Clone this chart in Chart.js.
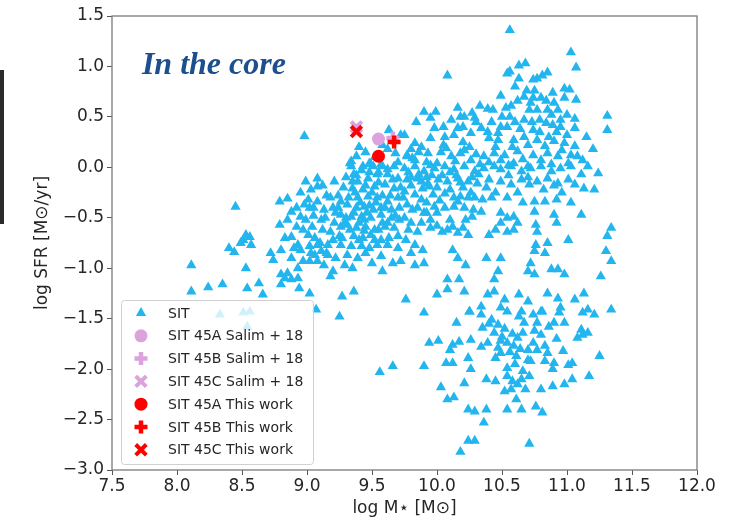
<html>
<head>
<meta charset="UTF-8">
<title>SFR vs stellar mass - core</title>
<script src="https://cdn.jsdelivr.net/npm/chart.js"></script>
<style>
  body { margin: 0; background: #fff; }
  #wrap { width: 730px; height: 522px; position: relative; }
</style>
</head>
<body>
<div id="wrap"><canvas id="chart"></canvas></div>
<script>
// axis ticks
var xTicks = [7.5, 8.0, 8.5, 9.0, 9.5, 10.0, 10.5, 11.0, 11.5, 12.0];
var yTicks = [-3.0, -2.5, -2.0, -1.5, -1.0, -0.5, 0.0, 0.5, 1.0, 1.5];

var legendLabels = ["SIT", "SIT 45A Salim + 18", "SIT 45B Salim + 18", "SIT 45C Salim + 18",
                    "SIT 45A This work", "SIT 45B This work", "SIT 45C This work"];

// SIT galaxies [log M*, log SFR]
var sitPoints = [
 [10.56,1.36],[11.03,1.14],[11.07,0.99],[10.08,0.91],[10.63,1.01],[10.68,1.03],[10.54,0.93],[10.56,0.95],
 [10.63,0.88],[10.74,0.87],[10.77,0.88],[10.81,0.91],[10.85,0.94],[10.60,0.80],[10.49,0.71],[10.69,0.76],
 [10.67,0.70],[10.75,0.76],[10.74,0.69],[10.80,0.69],[10.89,0.74],[10.90,0.64],[10.98,0.78],[11.02,0.77],
 [10.98,0.69],[11.07,0.67],[11.31,0.51],[11.31,0.37],[11.15,0.30],[11.20,0.18],[11.06,0.48],[11.06,0.39],
 [10.95,0.47],[10.95,0.40],[10.88,0.52],[10.89,0.42],[10.79,0.47],[10.79,0.35],[10.74,0.37],[10.71,0.57],
 [10.77,0.57],[10.85,0.57],[10.67,0.47],[10.57,0.61],[10.53,0.59],[10.56,0.50],[10.54,0.40],[10.49,0.40],
 [10.47,0.34],[10.43,0.57],[10.39,0.58],[10.33,0.61],[10.27,0.54],[10.29,0.49],[10.21,0.50],[10.16,0.59],
 [10.18,0.50],[9.99,0.55],[9.90,0.55],[9.95,0.49],[9.84,0.45],[9.98,0.39],[10.11,0.47],[10.34,0.39],
 [10.39,0.35],[10.40,0.29],[10.47,0.27],[10.26,0.34],[10.16,0.39],[10.13,0.32],[10.06,0.30],[9.95,0.29],
 [9.75,0.32],[9.83,0.24],[10.59,0.27],[10.67,0.30],[10.70,0.22],[10.77,0.27],[10.83,0.21],[10.90,0.26],
 [10.98,0.24],[11.06,0.21],[11.08,0.11],[11.03,0.12],
 [9.77,0.11],[9.83,0.07],[9.93,0.14],[10.00,0.04],[10.11,0.11],[10.18,0.14],[10.26,0.07],[10.36,0.11],
 [10.44,0.14],[10.49,0.07],[10.59,0.04],[10.70,0.01],[10.80,0.07],[10.85,0.14],[10.93,0.11],[11.01,0.04],
 [11.16,0.01],[9.80,0.18],[9.88,0.20],[9.92,0.05],[10.03,0.15],[10.07,0.19],[10.14,0.06],[10.21,0.17],
 [10.30,0.13],[10.33,0.03],[10.40,0.05],[10.45,0.20],[10.52,0.12],[10.55,0.02],[10.62,0.16],[10.66,0.08],
 [10.74,0.12],[10.88,0.03],[10.96,0.17],[11.12,0.07],
 [8.98,0.31],[9.63,0.37],[9.34,0.06],[9.49,0.03],[9.57,0.03],[9.68,0.14],[9.58,0.22],[9.72,0.32],
 [9.81,0.09],[9.77,0.12],[9.38,0.11],[9.35,-0.14],[9.38,-0.08],[9.48,0.04],[9.33,0.04],
 [8.45,-0.39],[8.11,-0.97],[8.11,-1.23],[8.24,-1.19],[8.35,-1.16],[8.53,-1.00],[8.54,-1.20],[8.63,-1.15],
 [8.66,-1.26],[8.40,-0.80],[8.44,-0.84],[8.51,-0.72],[8.53,-0.67],[8.56,-0.69],[8.57,-0.77],[8.49,-0.75],
 [8.72,-0.85],[8.74,-0.92],[8.79,-0.34],[8.85,-0.31],[8.79,-0.57],[8.88,-0.44],[8.85,-0.52],[8.80,-0.82],
 [8.83,-0.70],[8.88,-0.69],[8.90,-0.80],[8.88,-0.90],[8.93,-0.77],[8.80,-1.06],[8.83,-1.10],[8.85,-1.05],
 [8.80,-1.16],[8.88,-1.11],[8.93,-1.10],[8.94,-1.20],[9.02,-1.25],[8.93,-1.00],[8.97,-0.93],[8.95,-0.82],
 [9.02,-0.93],[9.03,-0.85],[8.99,-0.14],[9.08,-0.11],[9.08,-0.19],[9.21,-0.14],
 [8.98,-0.37],[9.01,-0.32],[9.08,-0.34],[9.02,-0.40],[8.95,-0.49],[8.92,-0.59],[8.97,-0.62],[9.01,-0.67],
 [9.04,-0.59],[9.06,-0.70],[9.08,-0.77],[9.11,-0.83],[9.06,-0.87],[9.08,-0.93],[9.13,-0.97],[9.20,-1.03],
 [9.18,-1.08],[9.16,-0.87],[9.16,-0.77],[9.22,-0.90],[9.29,-0.97],[9.35,-1.00],[9.27,-1.28],[9.36,-1.23],
 [9.25,-0.68],[9.26,-0.59],[9.30,-0.50],[9.26,-0.34],[9.20,-0.40],[9.13,-0.42],[9.11,-0.52],[9.21,-0.55],
 [9.18,-0.64],
 [9.34,0.01],[9.43,0.01],[9.51,0.01],[9.58,0.01],[9.67,0.01],[9.36,-0.07],[9.39,-0.14],[9.47,-0.11],
 [9.54,-0.07],[9.62,-0.07],[9.70,-0.11],[9.35,-0.21],[9.43,-0.22],[9.52,-0.19],[9.60,-0.17],[9.67,-0.21],
 [9.39,-0.30],[9.47,-0.29],[9.54,-0.30],[9.62,-0.34],[9.70,-0.30],[9.31,-0.37],[9.38,-0.40],[9.44,-0.39],
 [9.51,-0.42],[9.57,-0.40],[9.65,-0.42],[9.71,-0.40],[9.26,-0.47],[9.34,-0.49],[9.42,-0.49],[9.49,-0.50],
 [9.57,-0.47],[9.65,-0.50],[9.71,-0.52],[9.31,-0.57],[9.38,-0.60],[9.45,-0.59],[9.52,-0.62],[9.60,-0.59],
 [9.67,-0.60],[9.36,-0.68],[9.43,-0.70],[9.49,-0.67],[9.57,-0.72],[9.63,-0.70],[9.70,-0.68],[9.26,-0.77],
 [9.34,-0.78],[9.42,-0.78],[9.48,-0.80],[9.54,-0.77],[9.62,-0.77],[9.70,-0.80],[9.45,-0.85],[9.57,-0.88],
 [9.66,-0.95],[9.58,-1.03],[9.72,-0.93],[9.31,-0.87],
 [9.28,-0.20],[9.24,-0.28],[9.30,-0.10],[9.22,-0.45],[9.40,-0.55],[9.46,-0.45],[9.50,-0.25],[9.55,-0.15],
 [9.60,-0.40],[9.64,-0.28],[9.52,-0.72],[9.44,-0.63],[9.41,-0.35],[9.33,-0.62],[9.68,-0.48],[9.58,-0.55],
 [9.48,-0.05],[9.62,-0.02],[9.66,-0.12],[9.37,-0.25],[9.53,-0.35],[9.27,-0.70],[9.39,-0.90],[9.50,-0.95],
 [9.12,-0.62],[9.05,-0.48],[9.15,-0.28],[9.10,-0.75],
 [9.75,-0.01],[9.83,0.01],[9.90,-0.04],[9.98,-0.01],[10.06,0.01],[10.13,-0.02],[10.21,0.01],[10.29,-0.04],
 [10.36,-0.01],[10.44,0.01],[10.49,-0.02],[10.57,0.01],[10.65,-0.04],[10.72,-0.01],[10.80,0.01],[10.88,-0.04],
 [10.95,-0.01],[11.03,0.01],[11.11,-0.07],[11.24,-0.06],
 [9.77,-0.12],[9.85,-0.11],[9.93,-0.16],[10.01,-0.12],[10.08,-0.14],[10.16,-0.11],[10.24,-0.14],[10.31,-0.16],
 [10.40,-0.12],[10.49,-0.14],[10.57,-0.17],[10.65,-0.12],[10.71,-0.17],[10.77,-0.14],[10.85,-0.11],[10.93,-0.16],
 [11.01,-0.12],[11.06,-0.17],[11.13,-0.21],[11.21,-0.22],
 [9.75,-0.24],[9.83,-0.27],[9.89,-0.21],[9.97,-0.27],[10.06,-0.26],[10.13,-0.30],[10.18,-0.29],[10.29,-0.30],
 [10.35,-0.32],[10.42,-0.30],[10.54,-0.30],[10.66,-0.35],[10.75,-0.34],[10.83,-0.34],[10.92,-0.32],[11.03,-0.35],
 [9.77,-0.37],[9.85,-0.40],[9.92,-0.45],[9.98,-0.39],[10.06,-0.40],[10.13,-0.39],[10.21,-0.40],[10.27,-0.49],
 [10.34,-0.44],[10.49,-0.45],[10.54,-0.50],[10.59,-0.49],[10.62,-0.55],[10.75,-0.44],[10.90,-0.47],[10.92,-0.55],
 [11.11,-0.47],
 [9.75,-0.50],[9.80,-0.55],[9.85,-0.64],[9.95,-0.60],[10.04,-0.64],[10.12,-0.59],[10.16,-0.65],[10.24,-0.67],
 [10.40,-0.67],[10.45,-0.62],[10.49,-0.55],[10.54,-0.64],[10.59,-0.62],[10.76,-0.57],[10.77,-0.64],[11.34,-0.60],
 [11.31,-0.68],
 [9.76,-0.72],[9.83,-0.77],[9.89,-0.82],[9.80,-0.85],[10.12,-0.82],[10.16,-0.90],[10.22,-0.97],[10.38,-0.90],
 [10.49,-0.90],[10.76,-0.77],[10.75,-0.83],[10.85,-0.75],[10.83,-0.85],[11.01,-0.72],[11.30,-0.83],[11.34,-0.93],
 [9.83,-0.97],[9.90,-0.95],[10.47,-1.03],[10.44,-1.11],[10.72,-0.95],[10.70,-1.03],[10.75,-1.06],[10.88,-1.01],
 [10.93,-1.01],[10.98,-1.06],[11.26,-1.08],
 [10.08,-1.11],[10.17,-1.11],[10.08,-1.21],[10.21,-1.23],[10.39,-1.26],[10.44,-1.23],[10.52,-1.31],[10.63,-1.26],
 [10.70,-1.33],[10.85,-1.25],[10.93,-1.30],[11.06,-1.31],[11.13,-1.25],[9.76,-1.31],[9.90,-1.44],[10.25,-1.43],
 [10.34,-1.38],[10.49,-1.39],[10.65,-1.43],[10.80,-1.43],[10.95,-1.39],[11.16,-1.41],[11.34,-1.41],[10.00,-1.26],
 [9.78,-0.05],[9.86,-0.07],[9.92,-0.10],[10.00,-0.20],[10.04,-0.08],[10.10,-0.22],[9.88,-0.32],[9.94,-0.19],
 [9.80,-0.18],[10.20,-0.20],[10.15,-0.08],[10.26,-0.25],[10.32,-0.07],[10.02,-0.33],[9.90,-0.45],[10.10,-0.52],
 [9.95,-0.52],[10.38,-0.20],[10.45,-0.25],[10.55,-0.08],[10.62,-0.25],[10.70,-0.10],[10.82,-0.22],[10.90,-0.18],
 [10.96,-0.25],[10.28,-0.42],[10.22,-0.52],
 [10.15,-1.54],[10.25,-1.43],[10.34,-1.46],[10.42,-1.51],[10.47,-1.56],[10.35,-1.59],[10.44,-1.64],[10.54,-1.43],
 [10.63,-1.48],[10.67,-1.54],[10.74,-1.46],[10.77,-1.54],[10.81,-1.43],[10.90,-1.54],[10.94,-1.44],[10.98,-1.54],
 [11.12,-1.44],[11.21,-1.46],[11.11,-1.61],[11.16,-1.64],[11.08,-1.69],
 [9.94,-1.74],[10.01,-1.72],[10.10,-1.81],[10.12,-1.76],[10.17,-1.73],[10.26,-1.71],[10.34,-1.78],[10.39,-1.74],
 [10.47,-1.79],[10.49,-1.72],[10.54,-1.74],[10.59,-1.77],[10.62,-1.69],[10.66,-1.64],[10.70,-1.81],[10.74,-1.74],
 [10.77,-1.81],[10.83,-1.77],[10.85,-1.84],[10.80,-1.66],[10.97,-1.82],[11.25,-1.87],
 [9.90,-1.97],[10.07,-1.94],[10.12,-1.94],[10.24,-1.89],[10.26,-2.00],[10.45,-1.89],[10.49,-1.84],[10.54,-1.99],
 [10.61,-1.87],[10.70,-1.91],[10.72,-1.92],[10.83,-1.92],[10.90,-1.94],[10.89,-2.00],[11.01,-1.96],[11.04,-1.94],
 [11.17,-2.07],
 [10.03,-2.18],[10.21,-2.14],[10.38,-2.10],[10.45,-2.12],[10.54,-2.07],[10.65,-2.10],[10.62,-2.15],[10.68,-2.20],
 [10.71,-2.07],[10.80,-2.20],[10.89,-2.17],[10.98,-2.15],[11.04,-2.10],[10.57,-2.20],[10.61,-2.30],
 [10.08,-2.30],[10.13,-2.28],[10.24,-2.40],[10.29,-2.42],[10.38,-2.40],[10.54,-2.40],[10.65,-2.40],[10.76,-2.37],
 [10.81,-2.43],[10.36,-2.53],[10.24,-2.71],[10.29,-2.71],[10.18,-2.82],[10.71,-2.74],
 [10.40,-1.55],[10.52,-1.60],[10.58,-1.65],[10.50,-1.68],[10.56,-1.83],[10.64,-1.80],[10.60,-1.95],[10.66,-2.02],
 [10.52,-2.22],[10.58,-2.12],[10.75,-1.62],[10.86,-1.58],[10.92,-1.70],[11.12,-1.66],
 [9.25,-1.48],[9.07,-1.41],[9.56,-2.03],[9.66,-1.97],[8.33,-1.46],[8.51,-1.44],[8.56,-1.43],[8.54,-1.58],
 // crowded core, where single triangles overlap
 [9.40,0.20],[9.45,0.15],[9.52,0.10],[9.62,0.18],[9.70,0.05],[9.86,0.15],[9.95,0.02],[10.05,0.22],
 [10.20,0.25],[10.25,0.20],[9.42,-0.03],[9.55,-0.05],[9.72,-0.20],[9.80,-0.10],[9.88,-0.14],[9.96,-0.08],
 [10.10,-0.05],[10.18,-0.15],[10.27,-0.10],[9.45,-0.18],[9.32,-0.30],[9.48,-0.38],[9.58,-0.28],[9.74,-0.30],
 [9.81,-0.42],[9.92,-0.35],[10.00,-0.45],[10.16,-0.34],[10.24,-0.30],[9.36,-0.45],[9.44,-0.52],[9.55,-0.62],
 [9.62,-0.55],[9.78,-0.62],[9.88,-0.55],[10.00,-0.58],[10.08,-0.62],[10.20,-0.60],[9.29,-0.55],[9.40,-0.72],
 [8.95,-0.25],[9.03,-0.22],[9.12,-0.18],[9.18,-0.30],[8.92,-0.40],[9.05,-0.40],[9.14,-0.50],[8.99,-0.52],
 [9.24,-0.40],[9.02,-0.78],[9.20,-0.72],[9.15,-0.85],
 [10.62,0.66],[10.72,0.64],[10.84,0.66],[10.93,0.57],[10.60,0.45],[10.64,0.38],[10.84,0.44],[10.92,0.35],
 [11.00,0.52],[10.50,0.50],[10.42,0.45],[10.30,0.45],[10.20,0.40],[10.05,0.40],[10.58,0.20],[10.73,0.45],
 [11.00,0.32],[10.86,0.30]
];

// SIT 45 measurements
var salimA = [[9.55, 0.28]];
var salimB = [[9.66, 0.29]];
var salimC = [[9.38, 0.40]];
var thisA  = [[9.55, 0.11]];
var thisB  = [[9.67, 0.25]];
var thisC  = [[9.38, 0.355]];

var SIT_BLUE = "#22b5ee";
var LILAC = "#dba2dd";
var RED = "#ff0000";

function toXY(list) {
  return list.map(function (p) { return { x: p[0], y: p[1] }; });
}

var datasets = [
  { label: legendLabels[0], data: toXY(sitPoints), pointStyle: "triangle", pointRadius: 5.9,
    backgroundColor: SIT_BLUE, borderColor: SIT_BLUE, borderWidth: 0, order: 7 },
  { label: legendLabels[1], data: toXY(salimA), pointStyle: "circle", pointRadius: 6.5,
    backgroundColor: LILAC, borderColor: LILAC, borderWidth: 0, order: 6 },
  { label: legendLabels[2], data: toXY(salimB), pointStyle: "cross", pointRadius: 6.5,
    backgroundColor: LILAC, borderColor: LILAC, borderWidth: 4.5, order: 5 },
  { label: legendLabels[3], data: toXY(salimC), pointStyle: "crossRot", pointRadius: 7.5,
    backgroundColor: LILAC, borderColor: LILAC, borderWidth: 4, order: 4 },
  { label: legendLabels[4], data: toXY(thisA), pointStyle: "circle", pointRadius: 6.5,
    backgroundColor: RED, borderColor: RED, borderWidth: 0, order: 3 },
  { label: legendLabels[5], data: toXY(thisB), pointStyle: "cross", pointRadius: 6.5,
    backgroundColor: RED, borderColor: RED, borderWidth: 4.5, order: 2 },
  { label: legendLabels[6], data: toXY(thisC), pointStyle: "crossRot", pointRadius: 7.5,
    backgroundColor: RED, borderColor: RED, borderWidth: 4, order: 1 }
];

// white page + the dark bar on the left edge of the slide
var backdrop = {
  id: "backdrop",
  beforeDraw: function (chart) {
    var ctx = chart.ctx;
    ctx.save();
    ctx.fillStyle = "#ffffff";
    ctx.fillRect(0, 0, chart.width, chart.height);
    ctx.fillStyle = "#2b2b2b";
    ctx.fillRect(0, 70, 4, 154);
    ctx.restore();
  }
};

// box round the plot, the caption and the legend, all on top of the points
var overlay = {
  id: "overlay",
  afterDatasetsDraw: function (chart) {
    var ctx = chart.ctx, a = chart.chartArea;
    var sx = chart.scales.x, sy = chart.scales.y;
    ctx.save();
    ctx.strokeStyle = "#7a7a7a";
    ctx.lineWidth = 1.3;
    ctx.strokeRect(a.left, a.top, a.right - a.left, a.bottom - a.top);

    ctx.font = 'italic bold 32px "Liberation Serif"';
    ctx.fillStyle = "#1c4f8e";
    ctx.textBaseline = "alphabetic";
    ctx.fillText("In the core", sx.getPixelForValue(7.73), sy.getPixelForValue(0.93));

    // legend box
    var bx = a.left + 9, by = a.bottom - 170, bw = 192, bh = 164;
    ctx.fillStyle = "rgba(255,255,255,0.8)";
    ctx.strokeStyle = "#d0d0d0";
    ctx.lineWidth = 1;
    ctx.beginPath();
    if (ctx.roundRect) ctx.roundRect(bx + 0.5, by + 0.5, bw, bh, 3);
    else ctx.rect(bx + 0.5, by + 0.5, bw, bh);
    ctx.fill();
    ctx.stroke();

    ctx.font = '14px "DejaVu Sans"';
    ctx.textBaseline = "middle";
    for (var i = 0; i < datasets.length; i++) {
      var ds = datasets[i];
      var cy = by + 13 + i * 22.8;
      var cx = bx + 20;
      ctx.fillStyle = ds.backgroundColor;
      ctx.strokeStyle = ds.borderColor;
      ctx.lineWidth = ds.borderWidth;
      Chart.helpers.drawPoint(ctx, {
        pointStyle: ds.pointStyle, rotation: 0,
        radius: ds.pointRadius, borderWidth: ds.borderWidth
      }, cx, cy);
      ctx.fillStyle = "#262626";
      ctx.fillText(ds.label, bx + 47, cy + 1);
    }
    ctx.restore();
  }
};

function fmt(v) {
  return Number(v).toFixed(1).replace("-", "\u2212");
}

new Chart(document.getElementById("chart"), {
  type: "scatter",
  data: { datasets: datasets },
  options: {
    responsive: true,
    maintainAspectRatio: false,
    animation: false,
    events: [],
    layout: { padding: { top: 16, right: 33, left: 0, bottom: 0 } },
    plugins: { legend: { display: false }, tooltip: { enabled: false } },
    scales: {
      x: {
        type: "linear",
        min: xTicks[0], max: xTicks[xTicks.length - 1],
        afterFit: function (s) { s.height = 52; },
        afterBuildTicks: function (s) { s.ticks = xTicks.map(function (v) { return { value: v }; }); },
        border: { display: false },
        grid: { drawOnChartArea: false, drawTicks: true, tickLength: 5, color: "#555555" },
        ticks: { color: "#262626", padding: 1, maxRotation: 0, autoSkip: false,
                 font: { family: "DejaVu Sans", size: 17 }, callback: fmt },
        title: { display: true, text: "log M\u22c6 [M\u2299]", color: "#262626",
                 font: { family: "DejaVu Sans", size: 17 }, padding: { top: 0, bottom: 3 } }
      },
      y: {
        type: "linear",
        min: yTicks[0], max: yTicks[yTicks.length - 1],
        afterFit: function (s) { s.width = 112; },
        afterBuildTicks: function (s) { s.ticks = yTicks.map(function (v) { return { value: v }; }); },
        border: { display: false },
        grid: { drawOnChartArea: false, drawTicks: true, tickLength: 5, color: "#555555" },
        ticks: { color: "#262626", padding: 3, autoSkip: false,
                 font: { family: "DejaVu Sans", size: 17 }, callback: fmt },
        title: { display: true, text: "log SFR [M\u2299/yr]", color: "#262626",
                 font: { family: "DejaVu Sans", size: 17 }, padding: { top: 32, bottom: 0 } }
      }
    }
  },
  plugins: [backdrop, overlay]
});
</script>
</body>
</html>
